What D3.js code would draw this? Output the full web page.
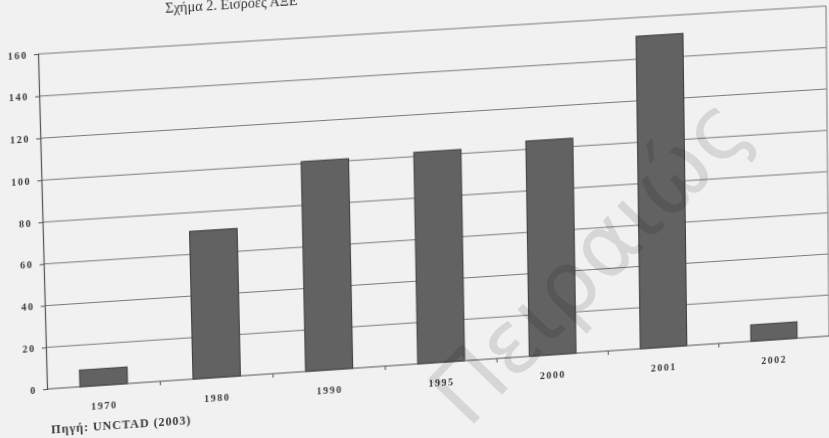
<!DOCTYPE html>
<html>
<head>
<meta charset="utf-8">
<script src="https://cdn.jsdelivr.net/npm/d3@7"></script>
<style>
  body { margin: 0; background: #f1f1f1; overflow: hidden; }
  svg { position: absolute; left: 0; top: 0; overflow: visible; }
  #page { transform-origin: 0 0; }
  .lbl { font-family: "Liberation Serif", serif; font-weight: bold; font-size: 10px; letter-spacing: 1.5px; fill: #3a3a3a; }
</style>
</head>
<body>
<svg id="page" width="829" height="438"></svg>
<svg id="mark" width="829" height="438"></svg>
<script>
// data
const years = ["1970", "1980", "1990", "1995", "2000", "2001", "2002"];
const inflows = [8, 71, 101, 102, 104, 151, 8];
const yTicks = [0, 20, 40, 60, 80, 100, 120, 140, 160];
const title = "Σχήμα 2. Εισροές ΑΞΕ";
const source = "Πηγή: UNCTAD (2003)";
const watermark = "Πειραιώς";

const plot = { x: 47, y: 55, w: 779, h: 334 };

// the page is photographed a bit tilted: map the flat plot rect onto the scanned quad
const quad = [[38, 54], [826, 6], [829, 336], [47, 389]];

function quadMatrix(rect, q) {
    const [x0, y0] = q[0], [x1, y1] = q[1], [x2, y2] = q[2], [x3, y3] = q[3];
    const dx1 = x1 - x2, dx2 = x3 - x2, dx3 = x0 - x1 + x2 - x3;
    const dy1 = y1 - y2, dy2 = y3 - y2, dy3 = y0 - y1 + y2 - y3;
    const den = dx1 * dy2 - dx2 * dy1;
    const g = (dx3 * dy2 - dx2 * dy3) / den;
    const h = (dx1 * dy3 - dx3 * dy1) / den;
    const H = [[x1 - x0 + g * x1, x3 - x0 + h * x3, x0],
               [y1 - y0 + g * y1, y3 - y0 + h * y3, y0],
               [g, h, 1]];
    const S = [[1 / rect.w, 0, -rect.x / rect.w], [0, 1 / rect.h, -rect.y / rect.h], [0, 0, 1]];
    const M = H.map(r => [0, 1, 2].map(j => r[0] * S[0][j] + r[1] * S[1][j] + r[2] * S[2][j]));
    return `matrix3d(${M[0][0]},${M[1][0]},0,${M[2][0]},${M[0][1]},${M[1][1]},0,${M[2][1]},0,0,1,0,${M[0][2]},${M[1][2]},0,${M[2][2]})`;
}

const svg = d3.select("#page").style("transform", quadMatrix(plot, quad));

const x = d3.scaleBand()
    .domain(years)
    .range([plot.x, plot.x + plot.w])
    .paddingInner(0.58)
    .paddingOuter(0.29);

const y = d3.scaleLinear()
    .domain([0, 160])
    .range([plot.y + plot.h, plot.y]);

// gridlines
svg.append("g")
    .selectAll("line")
    .data(yTicks.filter(d => d > 0))
    .enter().append("line")
    .attr("x1", plot.x)
    .attr("x2", plot.x + plot.w)
    .attr("y1", d => y(d))
    .attr("y2", d => y(d))
    .attr("stroke", "#7a7a7a")
    .attr("stroke-width", 1.2);

// right edge of plot frame
svg.append("line")
    .attr("x1", plot.x + plot.w).attr("x2", plot.x + plot.w)
    .attr("y1", plot.y).attr("y2", plot.y + plot.h)
    .attr("stroke", "#8a8a8a")
    .attr("stroke-width", 1.2);

// bars
svg.append("g")
    .selectAll("rect")
    .data(years)
    .enter().append("rect")
    .attr("x", d => x(d))
    .attr("y", (d, i) => y(inflows[i]))
    .attr("width", x.bandwidth())
    .attr("height", (d, i) => y(0) - y(inflows[i]))
    .attr("fill", "#626262")
    .attr("stroke", "#3a3a3a")
    .attr("stroke-width", 1);

// y axis
const yAxis = svg.append("g")
    .attr("transform", `translate(${plot.x},0)`)
    .call(d3.axisLeft(y).tickValues(yTicks).tickSize(4).tickPadding(6));
yAxis.select(".domain").attr("stroke", "#555").attr("stroke-width", 1.2);
yAxis.selectAll(".tick line").attr("stroke", "#555");
yAxis.selectAll(".tick text").attr("class", "lbl").attr("font-size", null).attr("font-family", null);

// x axis: line, ticks between categories, labels under bars
const base = y(0);
svg.append("line")
    .attr("x1", plot.x).attr("x2", plot.x + plot.w)
    .attr("y1", base).attr("y2", base)
    .attr("stroke", "#555")
    .attr("stroke-width", 1.2);

const gap = x.step() - x.bandwidth();
const bounds = years.slice(1).map(d => x(d) - gap / 2);
svg.append("g")
    .selectAll("line")
    .data(bounds)
    .enter().append("line")
    .attr("x1", d => d).attr("x2", d => d)
    .attr("y1", base).attr("y2", base + 4)
    .attr("stroke", "#555");

svg.append("g")
    .selectAll("text")
    .data(years)
    .enter().append("text")
    .attr("class", "lbl")
    .attr("x", d => x(d) + x.bandwidth() / 2)
    .attr("y", base + 24)
    .attr("text-anchor", "middle")
    .text(d => d);

// source note
svg.append("text")
    .attr("class", "lbl")
    .attr("x", 50)
    .attr("y", base + 45)
    .style("font-size", "12px")
    .style("letter-spacing", "0.9px")
    .text(source);

// title (cut off by the top of the scan)
svg.append("text")
    .attr("x", 172)
    .attr("y", 22)
    .attr("font-family", "Liberation Serif, serif")
    .attr("font-size", 14)
    .attr("fill", "#333")
    .text(title);

// repository watermark over the scan
d3.select("#mark").append("text")
    .attr("transform", "translate(468,430) rotate(-46)")
    .attr("font-family", "DejaVu Sans, sans-serif")
    .attr("font-size", 88)
    .attr("fill", "#000")
    .attr("fill-opacity", 0.11)
    .text(watermark);
</script>
</body>
</html>
